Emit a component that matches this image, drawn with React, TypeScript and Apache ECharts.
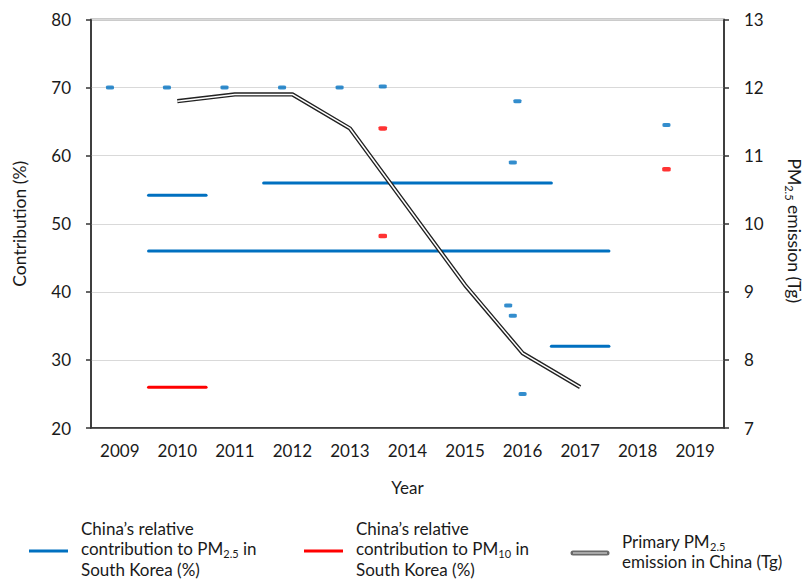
import React, { useEffect, useRef } from "react";
import * as echarts from "echarts";

const years = ["2009", "2010", "2011", "2012", "2013", "2014", "2015", "2016", "2017", "2018", "2019"];

// Blue: China's relative contribution to PM2.5 in South Korea (%)
const blueDashYears = [2008.83, 2009.82, 2010.82, 2011.82, 2012.82, 2013.57, 2015.91, 2015.83, 2018.5, 2015.75, 2015.83, 2016.0];
const blueDashValues = [70, 70, 70, 70, 70, 70.15, 68, 59, 64.5, 38, 36.5, 25];
const blueSpanStart = [2009.5, 2011.5, 2009.5, 2016.5];
const blueSpanEnd = [2010.5, 2016.5, 2017.5, 2017.5];
const blueSpanValues = [54.2, 56, 46, 32];

// Red: China's relative contribution to PM10 in South Korea (%)
const redDashYears = [2013.57, 2013.57, 2018.5];
const redDashValues = [64, 48.2, 58];
const redSpanStart = [2009.5];
const redSpanEnd = [2010.5];
const redSpanValues = [26];

// Primary PM2.5 emission in China (Tg)
const emissionYears = [2010, 2011, 2012, 2013, 2014, 2015, 2016, 2017];
const emissionValues = [11.8, 11.9, 11.9, 11.4, 10.25, 9.1, 8.1, 7.6];

const leftTicks = [20, 30, 40, 50, 60, 70, 80];
const rightTicks = [7, 8, 9, 10, 11, 12, 13];

const BLUE = "#0070C0";
const RED = "#FF0000";
const FONT = "Lato";
const TXT = "#1a1a1a";

export default function App() {
  const ref = useRef<HTMLDivElement>(null);
  useEffect(() => {
    if (!ref.current) return;
    const chart = echarts.init(ref.current, null, { renderer: "svg" });

    const series: any[] = [];
    blueSpanValues.forEach((v, i) => {
      series.push({
        type: "line",
        xAxisIndex: 1,
        yAxisIndex: 0,
        data: [[blueSpanStart[i], v], [blueSpanEnd[i], v]],
        showSymbol: false,
        lineStyle: { color: BLUE, width: 3, cap: "round" },
        z: 3,
      });
    });
    redSpanValues.forEach((v, i) => {
      series.push({
        type: "line",
        xAxisIndex: 1,
        yAxisIndex: 0,
        data: [[redSpanStart[i], v], [redSpanEnd[i], v]],
        showSymbol: false,
        lineStyle: { color: RED, width: 3, cap: "round" },
        z: 3,
      });
    });
    series.push({
      type: "scatter",
      xAxisIndex: 1,
      yAxisIndex: 0,
      data: blueDashYears.map((y, i) => [y, blueDashValues[i]]),
      symbol: "roundRect",
      symbolSize: [8, 4],
      itemStyle: { color: BLUE },
      z: 4,
    });
    series.push({
      type: "scatter",
      xAxisIndex: 1,
      yAxisIndex: 0,
      data: redDashYears.map((y, i) => [y, redDashValues[i]]),
      symbol: "roundRect",
      symbolSize: [8.5, 4.5],
      itemStyle: { color: RED },
      z: 4,
    });
    const emissionData = emissionYears.map((y, i) => [y, emissionValues[i]]);
    series.push({
      type: "line",
      xAxisIndex: 1,
      yAxisIndex: 1,
      data: emissionData,
      showSymbol: false,
      lineStyle: { color: "#222", width: 4.2 },
      z: 5,
    });
    series.push({
      type: "line",
      xAxisIndex: 1,
      yAxisIndex: 1,
      data: emissionData,
      showSymbol: false,
      lineStyle: { color: "#ffffff", width: 1.5 },
      z: 6,
    });

    const legendText = (x: number, y: number, text: string) => ({
      type: "text",
      x,
      y,
      style: {
        text,
        fontFamily: FONT,
        fontSize: 17,
        lineHeight: 20.5,
        fill: TXT,
        textVerticalAlign: "top",
        verticalAlign: "top",
        rich: {
          sub: { fontSize: 11, fontFamily: FONT, fill: TXT, verticalAlign: "bottom", lineHeight: 13 },
        },
      },
    });

    chart.setOption({
      animation: false,
      backgroundColor: "#ffffff",
      textStyle: { fontFamily: FONT, color: TXT },
      grid: {
        left: 91,
        right: 80,
        top: 19.5,
        bottom: 154,
        show: true,
        borderColor: "#333",
        borderWidth: 1.5,
        backgroundColor: "transparent",
      },
      xAxis: [
        {
          type: "category",
          data: years,
          boundaryGap: true,
          name: "Year",
          nameLocation: "middle",
          nameGap: 51,
          nameTextStyle: { fontSize: 17, color: TXT, fontFamily: FONT },
          axisLine: { lineStyle: { color: "#333", width: 1.5 } },
          axisTick: { alignWithLabel: true, length: 5, lineStyle: { color: "#333", width: 1.5 } },
          axisLabel: { fontSize: 17, color: TXT, margin: 14, fontFamily: FONT },
          splitLine: { show: false },
        },
        {
          type: "value",
          min: 2008.5,
          max: 2019.5,
          show: false,
          splitLine: { show: false },
        },
      ],
      yAxis: [
        {
          type: "value",
          min: leftTicks[0],
          max: leftTicks[leftTicks.length - 1],
          interval: 10,
          position: "left",
          name: "Contribution (%)",
          nameLocation: "middle",
          nameRotate: 90,
          nameGap: 63,
          nameTextStyle: { fontSize: 17.5, color: TXT, fontFamily: FONT },
          axisLine: { show: true, lineStyle: { color: "#333", width: 1.5 } },
          axisTick: { show: true, length: 5, lineStyle: { color: "#333", width: 1.5 } },
          axisLabel: { fontSize: 17, color: TXT, margin: 20, fontFamily: FONT },
          splitLine: { show: true, lineStyle: { color: "#d9d9d9", width: 1.2 } },
        },
        {
          type: "value",
          min: rightTicks[0],
          max: rightTicks[rightTicks.length - 1],
          interval: 1,
          position: "right",
          name: "{a|PM}{sub|2.5}{a| emission (Tg)}",
          nameLocation: "middle",
          nameRotate: -90,
          nameGap: 60,
          nameTextStyle: {
            fontSize: 17.5,
            color: TXT,
            fontFamily: FONT,
            padding: [0, 0, 0, 14],
            rich: {
              a: { fontSize: 17.5, color: TXT, fontFamily: FONT, lineHeight: 20 },
              sub: { fontSize: 11, color: TXT, fontFamily: FONT, verticalAlign: "bottom", lineHeight: 12 },
            },
          },
          axisLine: { show: true, lineStyle: { color: "#333", width: 1.5 } },
          axisTick: { show: true, length: 5, lineStyle: { color: "#333", width: 1.5 } },
          axisLabel: { fontSize: 17, color: TXT, margin: 20, fontFamily: FONT },
          splitLine: { show: false },
        },
      ],
      series,
      graphic: [
        { type: "line", shape: { x1: 29, y1: 551, x2: 68, y2: 551 }, style: { stroke: BLUE, lineWidth: 3 } },
        legendText(81, 518, "China’s relative\ncontribution to PM{sub|2.5} in\nSouth Korea (%)"),
        { type: "line", shape: { x1: 304, y1: 551, x2: 343, y2: 551 }, style: { stroke: RED, lineWidth: 3 } },
        legendText(356, 518, "China’s relative\ncontribution to PM{sub|10} in\nSouth Korea (%)"),
        { type: "line", shape: { x1: 573, y1: 553, x2: 607, y2: 553 }, style: { stroke: "#6a6a6a", lineWidth: 5, lineCap: "round" } },
        { type: "line", shape: { x1: 573, y1: 553, x2: 607, y2: 553 }, style: { stroke: "#a8a8a8", lineWidth: 1.8 } },
        legendText(622, 531, "Primary PM{sub|2.5}\nemission in China (Tg)"),
      ],
    });
    return () => chart.dispose();
  }, []);
  return <div ref={ref} style={{ position: "fixed", left: 0, top: 0, width: 811, height: 582 }} />;
}
